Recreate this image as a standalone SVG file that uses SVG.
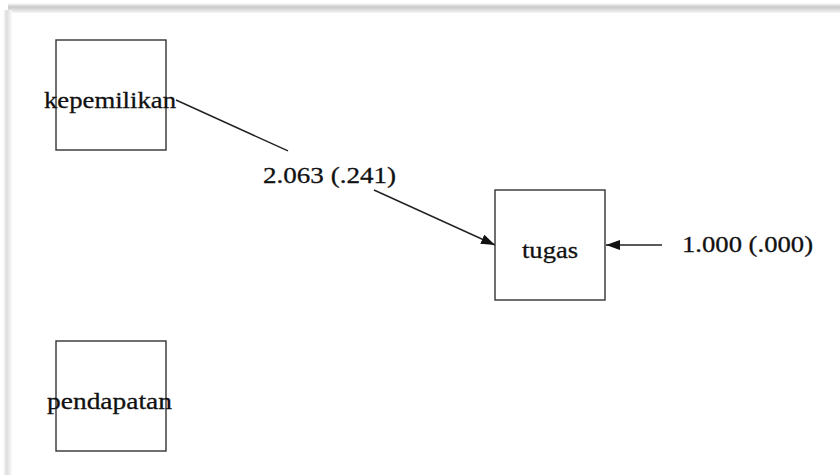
<svg xmlns="http://www.w3.org/2000/svg" width="840" height="475" viewBox="0 0 840 475">
  <style>
    .box { fill: #ffffff; stroke: #333333; stroke-width: 1.4; }
    .lbl { font-family: "Liberation Serif", "Times New Roman", serif; font-size: 24px; fill: #111111; stroke: #111111; stroke-width: 0.3; }
    .edge { fill: none; stroke: #222222; stroke-width: 1.4; }
  </style>
  <defs>
    <linearGradient id="shadeTop" x1="0" y1="0" x2="0" y2="1">
      <stop offset="0" stop-color="#ffffff"/>
      <stop offset="0.4" stop-color="#c8c8c8"/>
      <stop offset="1" stop-color="#f6f6f6"/>
    </linearGradient>
    <linearGradient id="shadeLeft" x1="0" y1="0" x2="1" y2="0">
      <stop offset="0" stop-color="#ffffff"/>
      <stop offset="0.4" stop-color="#dddddd"/>
      <stop offset="1" stop-color="#fafafa"/>
    </linearGradient>
    <marker id="arrow" viewBox="0 0 14 10" refX="14" refY="5" markerWidth="14" markerHeight="10" markerUnits="userSpaceOnUse" orient="auto">
      <path d="M0,0 L14,5 L0,10 Z" fill="#111111"/>
    </marker>
  </defs>

  <!-- page background with soft frame shadow -->
  <rect x="0" y="0" width="840" height="475" fill="#ffffff"/>
  <rect x="8" y="3" width="832" height="10" fill="url(#shadeTop)"/>
  <rect x="3" y="10" width="9" height="465" fill="url(#shadeLeft)"/>

  <!-- connectors -->
  <g id="connectors">
    <path class="edge" d="M176,100 L288,150.9"/>
    <path class="edge" d="M374,190 L495,245" marker-end="url(#arrow)"/>
    <path class="edge" d="M662,245 L606,245" marker-end="url(#arrow)"/>
    <text class="lbl" x="263" y="183" textLength="133" lengthAdjust="spacingAndGlyphs">2.063 (.241)</text>
    <text class="lbl" x="682" y="252" textLength="131" lengthAdjust="spacingAndGlyphs">1.000 (.000)</text>
  </g>

  <!-- nodes -->
  <g id="kepemilikan">
    <rect class="box" x="56" y="40" width="110" height="110"/>
    <text class="lbl" x="44" y="108" textLength="132" lengthAdjust="spacingAndGlyphs">kepemilikan</text>
  </g>
  <g id="tugas">
    <rect class="box" x="495" y="190" width="110" height="110"/>
    <text class="lbl" x="522" y="258" textLength="56" lengthAdjust="spacingAndGlyphs">tugas</text>
  </g>
  <g id="pendapatan">
    <rect class="box" x="56" y="341" width="110" height="110"/>
    <text class="lbl" x="47" y="409" textLength="125" lengthAdjust="spacingAndGlyphs">pendapatan</text>
  </g>
</svg>
